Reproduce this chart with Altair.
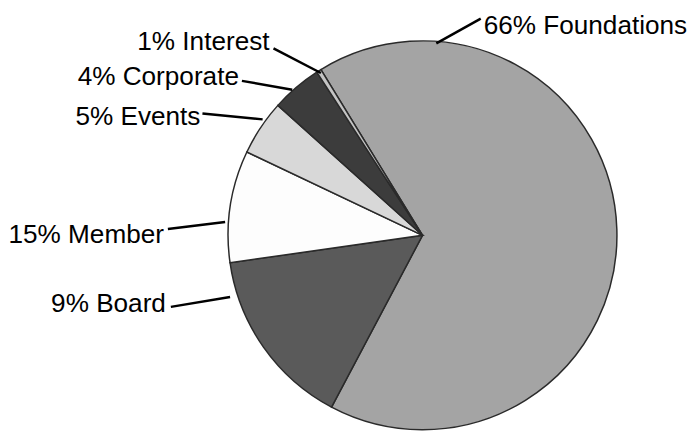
import math
import altair as alt
import pandas as pd

# ---- data ----
categories = ["Foundations", "Board", "Member", "Events", "Corporate", "Interest"]
values = [66.5, 15.0, 9.3, 4.6, 4.2, 0.4]
labels = ["66% Foundations", "9% Board", "15% Member", "5% Events", "4% Corporate", "1% Interest"]
colors = ["#a4a4a4", "#5a5a5a", "#fdfdfd", "#d8d8d8", "#3c3c3c", "#c4c4c4"]

# ---- layout (chart pixel space) ----
W, H = 680, 417
CX, CY, R = 417, 227.5, 197
START_DEG = 328.5
label_x = [479, 157, 155, 192, 231, 262]
label_y = [24, 305, 235, 116, 75, 40]
label_align = ["left", "right", "right", "right", "right", "right"]
lead_x1 = [431, 162, 159, 194, 234, 266]
lead_y1 = [33, 300, 221, 104, 71, 38]
lead_x2 = [476, 222, 217, 255, 285, 314]
lead_y2 = [8, 290, 214, 110, 80, 63]

pie_df = pd.DataFrame({"cat": categories, "value": values, "idx": range(len(categories))})
lab_df = pd.DataFrame({"cat": categories, "label": labels, "lx": label_x, "ly": label_y,
                       "align": label_align})
lead_df = pd.DataFrame({"cat": categories, "x1": lead_x1, "y1": lead_y1, "x2": lead_x2, "y2": lead_y2})

start = math.radians(START_DEG)
xs = alt.Scale(domain=[0, W], range=[0, W], nice=False, zero=False)
ys = alt.Scale(domain=[0, H], range=[0, H], nice=False, zero=False)

pie = alt.Chart(pie_df).mark_arc(outerRadius=R, stroke="#2a2a2a", strokeWidth=1.5).encode(
    theta=alt.Theta("value:Q", stack=True, scale=alt.Scale(range=[start, start + 2 * math.pi])),
    color=alt.Color("cat:N", scale=alt.Scale(domain=categories, range=colors), legend=None),
    order=alt.Order("idx:Q"),
    x=alt.value(CX),
    y=alt.value(CY),
)

leaders = alt.Chart(lead_df).mark_rule(color="black", strokeWidth=2.5).encode(
    x=alt.X("x1:Q", scale=xs, axis=None),
    y=alt.Y("y1:Q", scale=ys, axis=None),
    x2="x2:Q",
    y2="y2:Q",
)

text_left = alt.Chart(lab_df[lab_df["align"] == "left"]).mark_text(
    align="left", baseline="alphabetic", font="Liberation Sans", fontSize=26.5, color="black"
).encode(
    x=alt.X("lx:Q", scale=xs, axis=None),
    y=alt.Y("ly:Q", scale=ys, axis=None),
    text="label:N",
)
text_right = alt.Chart(lab_df[lab_df["align"] == "right"]).mark_text(
    align="right", baseline="alphabetic", font="Liberation Sans", fontSize=26.5, color="black"
).encode(
    x=alt.X("lx:Q", scale=xs, axis=None),
    y=alt.Y("ly:Q", scale=ys, axis=None),
    text="label:N",
)

chart = alt.layer(pie, leaders, text_left, text_right).properties(
    width=W, height=H, padding=0
).configure_view(stroke=None)

chart.save("out.html", embed_options={"renderer": "svg", "actions": False})
